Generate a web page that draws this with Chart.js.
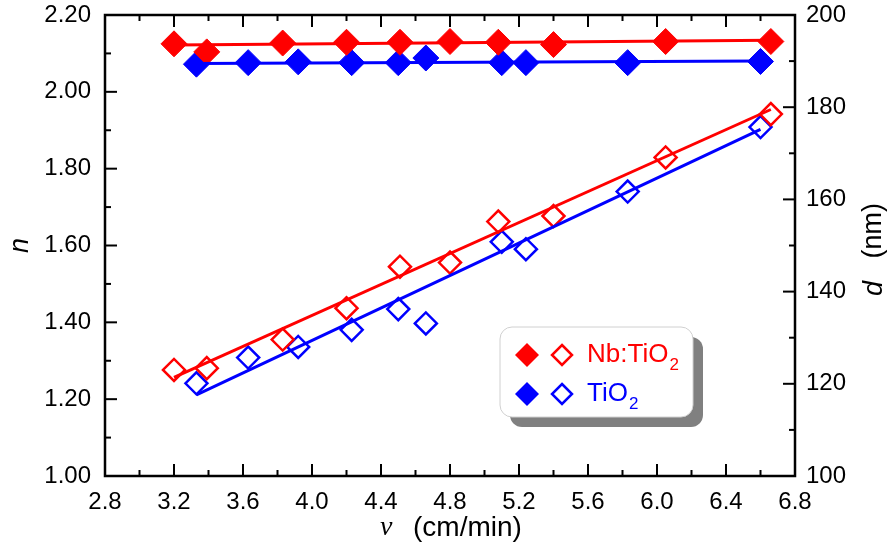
<!DOCTYPE html>
<html>
<head>
<meta charset="utf-8">
<script src="https://cdn.jsdelivr.net/npm/chart.js@4"></script>
<style>
  body { margin: 0; background: #fff; }
  #wrap { width: 893px; height: 553px; }
</style>
</head>
<body>
<div id="wrap"><canvas id="chart" width="893" height="553"></canvas></div>
<script>
// speed of the substrate (cm/min)
const vNb = [3.20, 3.39, 3.83, 4.20, 4.51, 4.80, 5.08, 5.40, 6.05, 6.66];
const vTi = [3.33, 3.63, 3.92, 4.23, 4.50, 4.66, 5.10, 5.24, 5.83, 6.60];

// refractive index n (left axis, filled diamonds)
const nNb = [2.125, 2.104, 2.127, 2.129, 2.129, 2.131, 2.129, 2.123, 2.131, 2.131];
const nTi = [2.072, 2.076, 2.078, 2.076, 2.076, 2.088, 2.076, 2.076, 2.076, 2.079];

// thickness d in nm (right axis, open diamonds)
const dNb = [123.0, 123.4, 129.6, 136.4, 145.4, 146.3, 155.2, 156.4, 169.1, 178.5];
const dTi = [120.1, 125.7, 128.0, 131.7, 136.2, 133.1, 150.8, 149.2, 161.7, 175.7];

// fitted lines (end points)
const fitNbX = [3.20, 6.66];
const fitNbN = [2.122, 2.134];
const fitNbD = [121.4, 179.5];
const fitTiX = [3.33, 6.60];
const fitTiN = [2.074, 2.080];
const fitTiD = [117.6, 175.2];

const xTicks = { min: 2.8, max: 6.8, step: 0.4 };
const nTicks = { min: 1.0, max: 2.2, step: 0.2 };
const dTicks = { min: 100, max: 200, step: 20 };

const RED = "#ff0000";
const BLUE = "#0000ff";
const FONT = "'Liberation Sans', Arial, sans-serif";

function pts(xs, ys) {
    return xs.map((x, i) => ({ x: x, y: ys[i] }));
}

function fitLine(xs, ys, color, axis) {
    return {
        type: "line",
        data: pts(xs, ys),
        yAxisID: axis,
        borderColor: color,
        borderWidth: 3,
        pointRadius: 0,
        fill: false,
        order: 0
    };
}

function markers(xs, ys, color, axis, open) {
    return {
        type: "scatter",
        data: pts(xs, ys),
        yAxisID: axis,
        pointStyle: "rectRot",
        pointRadius: open ? 11 : 13,
        pointHoverRadius: open ? 11 : 13,
        backgroundColor: open ? "rgba(0,0,0,0)" : color,
        borderColor: color,
        borderWidth: open ? 2.5 : 1,
        order: 1
    };
}

// no label overhang padding, the plot area is fixed by hand
function noPad(s) {
    s.paddingTop = 0;
    s.paddingBottom = 0;
    s.paddingLeft = 0;
    s.paddingRight = 0;
}

// frame and inward ticks on all four sides
const framePlugin = {
    id: "frame",
    afterDatasetsDraw(chart) {
        const { ctx, chartArea: a, scales } = chart;
        ctx.save();
        ctx.strokeStyle = "#000";
        ctx.lineWidth = 2;
        for (let i = 0; i <= 20; i++) {
            const px = scales.x.getPixelForValue(xTicks.min + i * 0.2);
            const len = i % 2 === 0 ? 12 : 6;
            ctx.beginPath();
            ctx.moveTo(px, a.bottom); ctx.lineTo(px, a.bottom - len);
            ctx.moveTo(px, a.top); ctx.lineTo(px, a.top + len);
            ctx.stroke();
        }
        for (let i = 0; i <= 12; i++) {
            const py = scales.y.getPixelForValue(nTicks.min + i * 0.1);
            const len = i % 2 === 0 ? 12 : 6;
            ctx.beginPath();
            ctx.moveTo(a.left, py); ctx.lineTo(a.left + len, py);
            ctx.stroke();
        }
        for (let i = 0; i <= 10; i++) {
            const py = scales.y2.getPixelForValue(dTicks.min + i * 10);
            const len = i % 2 === 0 ? 12 : 6;
            ctx.beginPath();
            ctx.moveTo(a.right, py); ctx.lineTo(a.right - len, py);
            ctx.stroke();
        }
        ctx.lineWidth = 2.5;
        ctx.strokeRect(a.left, a.top, a.right - a.left, a.bottom - a.top);
        ctx.restore();
    },
    afterDraw(chart) {
        const { ctx, chartArea: a } = chart;
        const cy = (a.top + a.bottom) / 2;
        ctx.save();
        ctx.fillStyle = "#000";
        ctx.textBaseline = "middle";
        ctx.textAlign = "center";

        // left title
        ctx.save();
        ctx.translate(20, cy);
        ctx.rotate(-Math.PI / 2);
        ctx.font = "italic 27px " + FONT;
        ctx.fillText("n", 0, 0);
        ctx.restore();

        // right title
        ctx.save();
        ctx.translate(874, cy + 4);
        ctx.rotate(-Math.PI / 2);
        ctx.font = "italic 27px " + FONT;
        ctx.textAlign = "left";
        const dW = ctx.measureText("d").width;
        ctx.font = "27px " + FONT;
        const restW = ctx.measureText("   (nm)").width;
        const start = -(dW + restW) / 2;
        ctx.font = "italic 27px " + FONT;
        ctx.fillText("d", start, 0);
        ctx.font = "27px " + FONT;
        ctx.fillText("   (nm)", start + dW, 0);
        ctx.restore();

        // bottom title
        ctx.textAlign = "left";
        ctx.font = "italic 28px 'Liberation Serif', 'DejaVu Serif', serif";
        ctx.fillText("v", 380, 528);
        ctx.font = "28px " + FONT;
        ctx.fillText("(cm/min)", 413, 528);

        // legend box
        const bx = 500, by = 327, bw = 193, bh = 90, r = 12;
        ctx.fillStyle = "#808080";
        ctx.beginPath();
        ctx.roundRect(bx + 10, by + 10, bw, bh, r);
        ctx.fill();
        ctx.fillStyle = "#fff";
        ctx.strokeStyle = "#d0d0d0";
        ctx.lineWidth = 1;
        ctx.beginPath();
        ctx.roundRect(bx, by, bw, bh, r);
        ctx.fill();
        ctx.stroke();

        const rows = [
            { color: RED, label: "Nb:TiO", y: 355 },
            { color: BLUE, label: "TiO", y: 394 }
        ];
        rows.forEach(row => {
            ctx.fillStyle = row.color;
            ctx.beginPath();
            ctx.moveTo(527, row.y - 12); ctx.lineTo(539, row.y);
            ctx.lineTo(527, row.y + 12); ctx.lineTo(515, row.y);
            ctx.closePath();
            ctx.fill();
            ctx.strokeStyle = row.color;
            ctx.lineWidth = 2.5;
            ctx.beginPath();
            ctx.moveTo(562, row.y - 10); ctx.lineTo(572, row.y);
            ctx.lineTo(562, row.y + 10); ctx.lineTo(552, row.y);
            ctx.closePath();
            ctx.stroke();
            ctx.font = "26px " + FONT;
            ctx.textBaseline = "middle";
            ctx.fillText(row.label, 587, row.y);
            const w = ctx.measureText(row.label).width;
            ctx.font = "17px " + FONT;
            ctx.fillText("2", 587 + w + 1, row.y + 10);
        });
        ctx.restore();
    }
};

new Chart(document.getElementById("chart"), {
    data: {
        datasets: [
            markers(vNb, nNb, RED, "y", false),
            markers(vTi, nTi, BLUE, "y", false),
            markers(vNb, dNb, RED, "y2", true),
            markers(vTi, dTi, BLUE, "y2", true),
            fitLine(fitNbX, fitNbN, RED, "y"),
            fitLine(fitTiX, fitTiN, BLUE, "y"),
            fitLine(fitNbX, fitNbD, RED, "y2"),
            fitLine(fitTiX, fitTiD, BLUE, "y2")
        ]
    },
    options: {
        responsive: false,
        animation: false,
        layout: { padding: { top: 15, left: 0, right: 0, bottom: 0 } },
        plugins: { legend: { display: false }, tooltip: { enabled: false } },
        scales: {
            x: {
                type: "linear",
                min: xTicks.min, max: xTicks.max,
                grid: { display: false, drawTicks: false },
                border: { display: false },
                ticks: {
                    stepSize: xTicks.step,
                    padding: 12,
                    color: "#000",
                    font: { family: FONT, size: 24 },
                    callback: v => v.toFixed(1)
                },
                afterFit: s => { s.height = 77; noPad(s); }
            },
            y: {
                type: "linear",
                position: "left",
                min: nTicks.min, max: nTicks.max,
                grid: { display: false, drawTicks: false },
                border: { display: false },
                ticks: {
                    stepSize: nTicks.step,
                    padding: 14,
                    color: "#000",
                    font: { family: FONT, size: 24 },
                    callback: v => v.toFixed(2)
                },
                afterFit: s => { s.width = 105; noPad(s); }
            },
            y2: {
                type: "linear",
                position: "right",
                min: dTicks.min, max: dTicks.max,
                grid: { display: false, drawTicks: false },
                border: { display: false },
                ticks: {
                    stepSize: dTicks.step,
                    padding: 11,
                    color: "#000",
                    font: { family: FONT, size: 24 },
                    callback: v => String(v)
                },
                afterFit: s => { s.width = 98; noPad(s); }
            }
        }
    },
    plugins: [framePlugin]
});
</script>
</body>
</html>
